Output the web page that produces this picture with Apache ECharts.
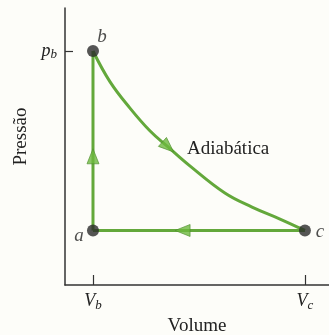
<!DOCTYPE html>
<html>
<head>
<meta charset="utf-8">
<script src="https://cdn.jsdelivr.net/npm/echarts@6/dist/echarts.min.js"></script>
<style>
  html, body { margin: 0; padding: 0; background: #fdfdf9; }
  #chart { width: 329px; height: 335px; }
</style>
</head>
<body>
<div id="chart"></div>
<script>
// state values (arbitrary units)
const Vb = 1.0;
const Vc = 8.57;
const pb = 100;
const pa = 23.3;

// adiabatic b -> c, read point by point
const adiabatV = [1.00, 1.61, 2.32, 3.04, 3.68, 4.46, 5.71, 6.68, 7.68, 8.57];
const adiabatP = [100.0, 86.8, 75.6, 65.8, 59.0, 50.9, 39.3, 33.3, 28.2, 23.3];

// state points
const stateNames = ["a", "b", "c"];
const stateV = [Vb, Vb, Vc];
const stateP = [pa, pb, pa];

// direction arrows (position + rotation)
const arrowV = [Vb, 3.68, 4.2];
const arrowP = [55, 59.0, pa];
const arrowRot = [0, -132, 90];

const green = "#63a83b";
const ink = "#222";
const serif = "'Liberation Serif', 'DejaVu Serif', serif";

const chart = echarts.init(document.getElementById("chart"));

const labelOffsets = {a: [-14, 6], b: [9, -14], c: [15, 2]};

chart.setOption({
  backgroundColor: "#fdfdf9",
  animation: false,
  grid: {left: 65, top: 8, right: 0, bottom: 50, containLabel: false, outerBoundsMode: "none"},
  xAxis: {
    type: "value",
    min: 0,
    max: 9.43,
    name: "Volume",
    nameLocation: "middle",
    nameGap: 28,
    nameTextStyle: {fontFamily: serif, fontSize: 19, color: ink},
    axisLine: {lineStyle: {color: "#333", width: 1.5}},
    axisTick: {show: true, inside: true, length: 10, customValues: [Vb, Vc], lineStyle: {color: "#333", width: 1.2}},
    axisLabel: {
      customValues: [Vb, Vc],
      margin: 6,
      formatter: v => (Math.abs(v - Vb) < 1e-6 ? "{v|V}{s|b}" : "{v|V}{s|c}"),
      rich: {
        v: {fontFamily: serif, fontStyle: "italic", fontSize: 18, color: ink},
        s: {fontFamily: serif, fontStyle: "italic", fontSize: 13, color: ink, verticalAlign: "bottom", padding: [8, 0, 0, 0]}
      }
    },
    splitLine: {show: false}
  },
  yAxis: {
    type: "value",
    min: 0,
    max: 118.38,
    name: "Pressão",
    nameLocation: "middle",
    nameGap: 28,
    nameTextStyle: {fontFamily: serif, fontSize: 19, color: ink, padding: [0, 0, 0, 20]},
    axisLine: {show: true, lineStyle: {color: "#333", width: 1.5}},
    axisTick: {show: true, inside: true, length: 8, customValues: [pb], lineStyle: {color: "#333", width: 1.2}},
    axisLabel: {
      customValues: [pb],
      margin: 8,
      formatter: () => "{p|p}{s|b}",
      rich: {
        p: {fontFamily: serif, fontStyle: "italic", fontSize: 18, color: ink},
        s: {fontFamily: serif, fontStyle: "italic", fontSize: 13, color: ink, verticalAlign: "bottom", padding: [8, 0, 0, 0]}
      }
    },
    splitLine: {show: false}
  },
  graphic: [{
    type: "text",
    left: 187,
    top: 140,
    style: {text: "Adiabática", font: "19px " + serif, fill: ink}
  }],
  series: [
    {
      type: "line",
      data: [[Vb, pa], [Vb, pb]],
      symbol: "none",
      lineStyle: {color: green, width: 3}
    },
    {
      type: "line",
      data: adiabatV.map((v, i) => [v, adiabatP[i]]),
      symbol: "none",
      smooth: 0.4,
      lineStyle: {color: green, width: 3}
    },
    {
      type: "line",
      data: [[Vc, pa], [Vb, pa]],
      symbol: "none",
      lineStyle: {color: green, width: 3}
    },
    {
      type: "scatter",
      data: arrowV.map((v, i) => ({value: [v, arrowP[i]], symbolRotate: arrowRot[i]})),
      symbol: "triangle",
      symbolSize: [12, 15],
      itemStyle: {color: "#6db83f", borderColor: "#4f8f2e", borderWidth: 0.8},
      z: 5
    },
    {
      type: "scatter",
      data: stateNames.map((n, i) => ({
        value: [stateV[i], stateP[i]],
        name: n,
        label: {offset: labelOffsets[n]}
      })),
      symbol: "circle",
      symbolSize: 12,
      itemStyle: {color: "#2b2b2b"},
      label: {
        show: true,
        position: "inside",
        formatter: p => p.name,
        fontFamily: serif,
        fontStyle: "italic",
        fontSize: 19,
        color: ink
      },
      z: 6
    }
  ]
});
</script>
</body>
</html>
